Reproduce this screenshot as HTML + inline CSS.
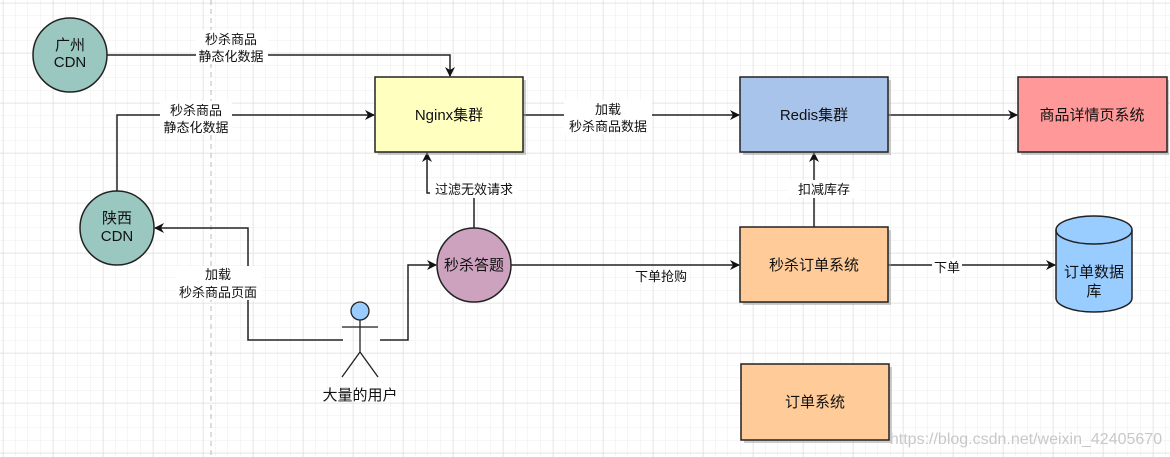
<!DOCTYPE html>
<html><head><meta charset="utf-8"><style>
html,body{margin:0;padding:0;background:#fff;}
svg{display:block;}
text{font-family:"Liberation Sans","Noto Sans CJK SC",sans-serif;font-size:13px;fill:#111;}
text.n{font-size:15px;}
text.w{font-size:16px;fill:#c8c8c8;}
</style></head><body>
<svg width="1170" height="457" viewBox="0 0 1170 457" xmlns="http://www.w3.org/2000/svg">
<defs>
<pattern id="minor" x="3" y="3" width="12.5" height="12.5" patternUnits="userSpaceOnUse">
<path d="M12.5 0V12.5M0 12.5H12.5" stroke="#ececec" stroke-width="1" fill="none"/>
</pattern>
<pattern id="major" x="3" y="3" width="50" height="50" patternUnits="userSpaceOnUse">
<path d="M0 0V50M0 0H50" stroke="#dcdcdc" stroke-width="1" fill="none"/>
</pattern>
<marker id="ar" markerWidth="10" markerHeight="10" refX="9" refY="5" orient="auto" markerUnits="userSpaceOnUse">
<path d="M0,0 L10,5 L0,10 L3,5 z" fill="#111"/>
</marker>
</defs>
<rect width="1170" height="457" fill="url(#minor)"/>
<rect width="1170" height="457" fill="url(#major)"/>
<line x1="211" y1="0" x2="211" y2="457" stroke="#bbb" stroke-dasharray="5,4"/>

<g stroke="#222" stroke-width="1.5" fill="none">
<path d="M107 55H450V76" marker-end="url(#ar)"/>
<path d="M117 191V115H374" marker-end="url(#ar)"/>
<path d="M523 115H739" marker-end="url(#ar)"/>
<path d="M888 115H1017" marker-end="url(#ar)"/>
<path d="M474 228V193H427V153" marker-end="url(#ar)"/>
<path d="M343 340H248V228H155" marker-end="url(#ar)"/>
<path d="M380 340H408V265H436" marker-end="url(#ar)"/>
<path d="M511 265H739" marker-end="url(#ar)"/>
<path d="M814 227V153" marker-end="url(#ar)"/>
<path d="M888 265H1055" marker-end="url(#ar)"/>
</g>

<g fill="#fff">
<rect x="196" y="30" width="72" height="34"/>
<rect x="160" y="101" width="72" height="34"/>
<rect x="564" y="100" width="88" height="34"/>
<rect x="430" y="180" width="88" height="18"/>
<rect x="176" y="266" width="86" height="34"/>
<rect x="788" y="180" width="72" height="18"/>
<rect x="932" y="258" width="30" height="18"/>
</g>
<g text-anchor="middle">
<text x="231" y="44">秒杀商品</text><text x="231" y="61">静态化数据</text>
<text x="196" y="115">秒杀商品</text><text x="196" y="132">静态化数据</text>
<text x="608" y="114">加载</text><text x="608" y="131">秒杀商品数据</text>
<text x="474" y="194">过滤无效请求</text>
<text x="218" y="279">加载</text><text x="218" y="297">秒杀商品页面</text>
<text x="661" y="281">下单抢购</text>
<text x="824" y="194">扣减库存</text>
<text x="947" y="272">下单</text>
</g>

<g stroke="#222" stroke-width="1.5">
<circle cx="70" cy="55" r="37" fill="#9AC7BF"/>
<circle cx="117" cy="228" r="37" fill="#9AC7BF"/>
<circle cx="474" cy="265" r="37" fill="#CDA2BE"/>
</g>
<g fill="#999" opacity="0.5">
<rect x="378" y="80" width="148" height="75"/>
<rect x="743" y="80" width="148" height="75"/>
<rect x="1021" y="80" width="148" height="75"/>
<rect x="743" y="230" width="148" height="75"/>
<rect x="744" y="367" width="148" height="76"/>
</g>
<g stroke="#222" stroke-width="1.5">
<rect x="375" y="77" width="148" height="75" fill="#FFFFC0"/>
<rect x="740" y="77" width="148" height="75" fill="#A9C4EB"/>
<rect x="1018" y="77" width="149" height="75" fill="#FF9999"/>
<rect x="740" y="227" width="148" height="75" fill="#FFCC99"/>
<rect x="741" y="364" width="148" height="76" fill="#FFCC99"/>
<path d="M1056 230V298A38 14 0 0 0 1132 298V230A38 14 0 0 0 1056 230Z" fill="#99CCFF"/>
<path d="M1056 230A38 14 0 0 0 1132 230" fill="none"/>
</g>
<g text-anchor="middle">
<text class="n" x="70" y="50">广州</text><text class="n" x="70" y="67">CDN</text>
<text class="n" x="117" y="223">陕西</text><text class="n" x="117" y="241">CDN</text>
<text class="n" x="474" y="270">秒杀答题</text>
<text class="n" x="449" y="120">Nginx集群</text>
<text class="n" x="814" y="120">Redis集群</text>
<text class="n" x="1092" y="120">商品详情页系统</text>
<text class="n" x="814" y="270">秒杀订单系统</text>
<text class="n" x="815" y="407">订单系统</text>
<text class="n" x="1094" y="277">订单数据</text><text class="n" x="1094" y="296">库</text>
</g>

<g stroke="#222" stroke-width="1.3" fill="none">
<circle cx="360" cy="311" r="9" fill="#99CCFF"/>
<line x1="360" y1="320" x2="360" y2="352"/>
<line x1="342" y1="327" x2="378" y2="327"/>
<path d="M342 377L360 352L378 377"/>
</g>
<text class="n" x="360" y="400" text-anchor="middle">大量的用户</text>

<text class="w" x="1026" y="444" text-anchor="middle">https://blog.csdn.net/weixin_42405670</text>
</svg>
</body></html>
